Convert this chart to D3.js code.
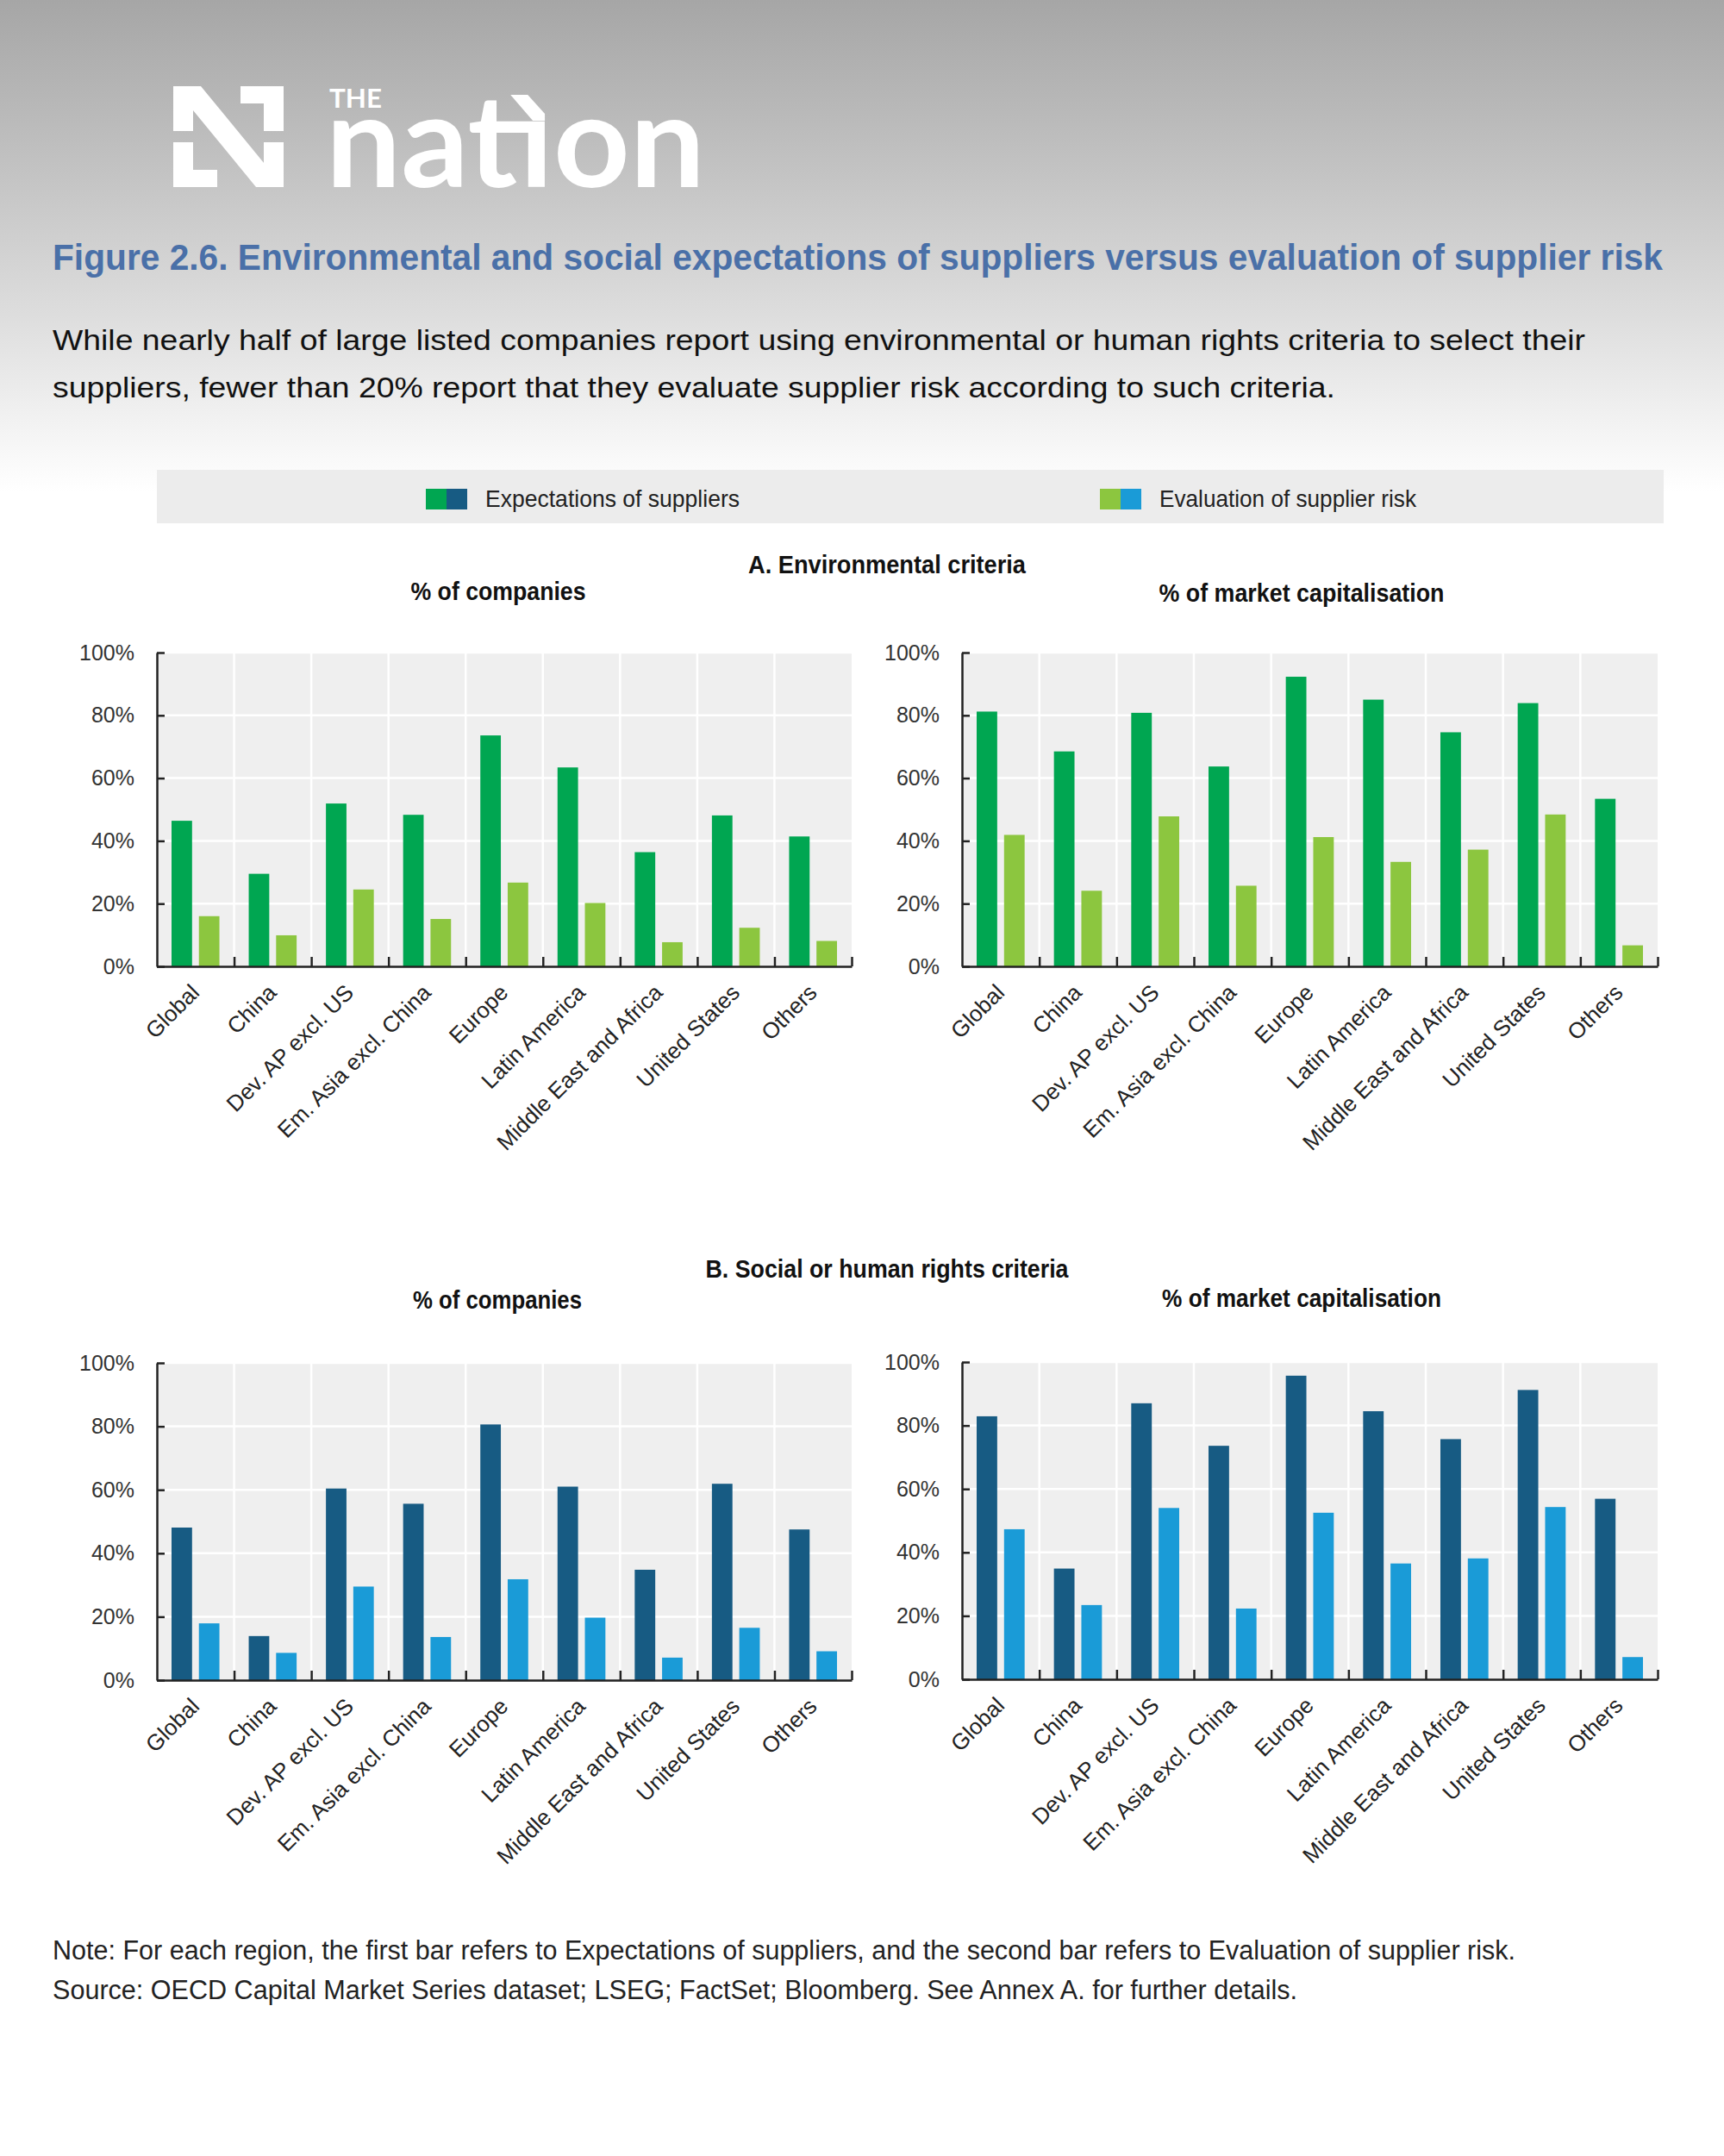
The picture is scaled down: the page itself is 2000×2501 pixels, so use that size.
<!DOCTYPE html>
<html>
<head>
<meta charset="utf-8">
<script src="https://cdn.jsdelivr.net/npm/d3@7"></script>
<style>
  body { margin: 0; background: #fff; }
  svg { display: block; }
</style>
</head>
<body>
<script>
// width and height of the page svg
var w = 2000;
var h = 2501;

// categories and series
var regions = ["Global", "China", "Dev. AP excl. US", "Em. Asia excl. China", "Europe",
               "Latin America", "Middle East and Africa", "United States", "Others"];
var seriesNames = ["Expectations of suppliers", "Evaluation of supplier risk"];
var yTicks = [0, 20, 40, 60, 80, 100];

// A. Environmental criteria (% values)
var envCompaniesExpect = [46.4, 29.5, 51.9, 48.3, 73.6, 63.4, 36.4, 48.1, 41.4];
var envCompaniesEval   = [16.0, 9.9, 24.5, 15.1, 26.7, 20.2, 7.7, 12.3, 8.1];
var envMarketExpect    = [81.2, 68.5, 80.8, 63.7, 92.3, 85.0, 74.6, 83.9, 53.4];
var envMarketEval      = [41.9, 24.1, 47.8, 25.7, 41.2, 33.3, 37.2, 48.4, 6.7];

// B. Social or human rights criteria (% values)
var socCompaniesExpect = [48.1, 13.9, 60.4, 55.6, 80.6, 61.0, 34.8, 61.9, 47.5];
var socCompaniesEval   = [17.9, 8.6, 29.5, 13.6, 31.8, 19.7, 7.1, 16.5, 9.1];
var socMarketExpect    = [82.9, 34.9, 87.0, 73.6, 95.7, 84.5, 75.7, 91.2, 56.9];
var socMarketEval      = [47.3, 23.4, 54.0, 22.3, 52.5, 36.5, 38.1, 54.3, 7.0];

// colours: [expectations, evaluation]
var greens = ["#00a651", "#8cc63f"];
var blues = ["#175b83", "#1a9bd7"];

var narrow = "'Liberation Sans Narrow', 'Arial Narrow', 'Liberation Sans', Arial, sans-serif";
var regular = "'Liberation Sans', Arial, sans-serif";

// adds a single line of text, optionally squeezed to a fixed length
function addText(svg, x, y, txt, size, weight, anchor, color, len, family) {
  var t = svg.append("text")
     .attr("x", x)
     .attr("y", y)
     .attr("text-anchor", anchor)
     .style("font-family", family || narrow)
     .style("font-size", size + "px")
     .style("font-weight", weight)
     .attr("fill", color)
     .text(txt);
  if (len) {
    t.attr("textLength", len).attr("lengthAdjust", "spacingAndGlyphs");
  }
  return t;
}

// draws one grouped bar chart panel
function barChart(svg, left, top, width, height, expectVals, evalVals, colors) {
  var g = svg.append("g")
             .attr("transform", "translate(" + left + "," + top + ")");

  var x0 = d3.scaleBand()
             .domain(regions)
             .range([0, width]);

  var x1 = d3.scaleBand()
             .domain(seriesNames)
             .range([17, x0.bandwidth() - 17])
             .paddingInner(0.25);

  var y = d3.scaleLinear()
            .domain([0, 100])
            .range([height, 0]);

  // boundary scale for the category separators
  var xb = d3.scaleLinear()
             .domain([0, regions.length])
             .range([0, width]);

  // plot background
  g.append("rect")
   .attr("width", width)
   .attr("height", height)
   .attr("fill", "#efefef");

  // white horizontal grid
  g.selectAll(".hgrid")
   .data(yTicks.slice(1))
   .enter()
   .append("line")
   .attr("x1", 0)
   .attr("x2", width)
   .attr("y1", d => y(d))
   .attr("y2", d => y(d))
   .attr("stroke", "#fff")
   .attr("stroke-width", 2.5);

  // white vertical separators
  g.selectAll(".vgrid")
   .data(d3.range(1, regions.length))
   .enter()
   .append("line")
   .attr("x1", d => xb(d))
   .attr("x2", d => xb(d))
   .attr("y1", 0)
   .attr("y2", height)
   .attr("stroke", "#fff")
   .attr("stroke-width", 2.5);

  // bars
  var rows = regions.map(function(r, i) {
    return {region: r, values: [expectVals[i], evalVals[i]]};
  });

  g.selectAll(".group")
   .data(rows)
   .enter()
   .append("g")
   .attr("transform", d => "translate(" + x0(d.region) + ",0)")
   .selectAll("rect")
   .data(d => d.values.map((v, j) => ({key: seriesNames[j], value: v, idx: j})))
   .enter()
   .append("rect")
   .attr("x", d => x1(d.key))
   .attr("y", d => y(d.value))
   .attr("width", x1.bandwidth())
   .attr("height", d => height - y(d.value))
   .attr("fill", d => colors[d.idx]);

  // y axis, ticks pointing inside
  var yAxis = g.append("g")
               .call(d3.axisLeft(y)
                       .tickValues(yTicks)
                       .tickSizeInner(-9)
                       .tickSizeOuter(0)
                       .tickPadding(26)
                       .tickFormat(d => d + "%"));

  // x axis with separator ticks pointing up
  var xAxis = g.append("g")
               .attr("transform", "translate(0," + height + ")")
               .call(d3.axisBottom(xb)
                       .tickValues(d3.range(1, regions.length + 1))
                       .tickSizeInner(-11)
                       .tickSizeOuter(0)
                       .tickFormat(""));

  [yAxis, xAxis].forEach(function(ax) {
    ax.select(".domain").attr("stroke", "#222").attr("stroke-width", 2.5);
    ax.selectAll(".tick line").attr("stroke", "#222").attr("stroke-width", 2.5);
  });

  yAxis.selectAll(".tick text")
       .style("font-family", regular)
       .style("font-size", "25px")
       .attr("fill", "#333");

  // rotated category labels
  g.selectAll(".cat")
   .data(regions)
   .enter()
   .append("text")
   .attr("transform", d => "translate(" + (x0(d) + x0.bandwidth() / 2 + 6) + "," + (height + 32) + ") rotate(-45)")
   .attr("text-anchor", "end")
   .style("font-family", regular)
   .style("font-size", "26px")
   .attr("fill", "#222")
   .text(d => d);
}

// the nation logo in the top header
function logo(svg) {
  var lg = svg.append("g").attr("fill", "#fff");
  var shapes = [
    [[201,100],[233,100],[329,217],[297,217]],
    [[201,100],[224,100],[224,152],[201,152]],
    [[201,165],[224,165],[224,197],[252,197],[252,217],[201,217]],
    [[279,100],[329,100],[329,152],[306,152],[306,120],[279,120]],
    [[306,165],[329,165],[329,217],[306,217]]
  ];
  lg.selectAll("polygon")
    .data(shapes)
    .enter()
    .append("polygon")
    .attr("points", d => d.map(p => p.join(",")).join(" "));

  addText(svg, 382, 125, "THE", 31, 700, "start", "#fff", 61, "Lato, 'Open Sans', sans-serif");
  var word = addText(svg, 378, 217, "nat\u0131on", 150, 700, "start", "#fff", 440, "Lato, 'Open Sans', sans-serif");

  // slanted cap on the dotless i
  var ext = word.node().getExtentOfChar(3);
  var x0 = ext.x + ext.width * 0.2;
  var x1 = ext.x + ext.width * 0.8;
  lg.append("polygon")
    .attr("points", [[x0 - 10, 110], [x0 + 10, 110], [x1, 132], [x1, 140], [x1 - 14, 140]].map(p => p.join(",")).join(" "));
}

window.onload = function() {

  var svg = d3.select("body")
              .append("svg")
              .attr("width", w)
              .attr("height", h);

  // grey header gradient
  var grad = svg.append("defs")
                .append("linearGradient")
                .attr("id", "head")
                .attr("x1", 0).attr("x2", 0).attr("y1", 0).attr("y2", 1);
  [[0, "#a6a6a6"], [0.35, "#c3c3c3"], [0.65, "#dedede"], [0.87, "#f3f3f3"], [1, "#ffffff"]]
    .forEach(s => grad.append("stop").attr("offset", s[0]).attr("stop-color", s[1]));

  svg.append("rect")
     .attr("width", w)
     .attr("height", 570)
     .attr("fill", "url(#head)");

  logo(svg);

  // title and subtitle
  addText(svg, 61, 313, "Figure 2.6. Environmental and social expectations of suppliers versus evaluation of supplier risk",
          42, 700, "start", "#4a70a8", 1868, regular);
  addText(svg, 61, 406, "While nearly half of large listed companies report using environmental or human rights criteria to select their",
          33, 400, "start", "#111", 1778, regular);
  addText(svg, 61, 461, "suppliers, fewer than 20% report that they evaluate supplier risk according to such criteria.",
          33, 400, "start", "#111", 1488, regular);

  // legend
  svg.append("rect")
     .attr("x", 182).attr("y", 545)
     .attr("width", 1748).attr("height", 62)
     .attr("fill", "#ececec");

  var legendX = [494, 1276];
  seriesNames.forEach(function(name, i) {
    svg.append("rect").attr("x", legendX[i]).attr("y", 567).attr("width", 24).attr("height", 24).attr("fill", greens[i]);
    svg.append("rect").attr("x", legendX[i] + 24).attr("y", 567).attr("width", 24).attr("height", 24).attr("fill", blues[i]);
    addText(svg, legendX[i] + 69, 588, name, 28, 400, "start", "#222", i == 0 ? 295 : 298);
  });

  // panel A
  addText(svg, 1029, 665, "A. Environmental criteria", 29, 700, "middle", "#111", 322);
  addText(svg, 578, 696, "% of companies", 29, 700, "middle", "#111", 203);
  addText(svg, 1510, 698, "% of market capitalisation", 29, 700, "middle", "#111", 331);
  barChart(svg, 182, 757, 806, 364, envCompaniesExpect, envCompaniesEval, greens);
  barChart(svg, 1116, 757, 807, 364, envMarketExpect, envMarketEval, greens);

  // panel B
  addText(svg, 1029, 1482, "B. Social or human rights criteria", 29, 700, "middle", "#111", 421);
  addText(svg, 577, 1518, "% of companies", 29, 700, "middle", "#111", 196);
  addText(svg, 1510, 1516, "% of market capitalisation", 29, 700, "middle", "#111", 324);
  barChart(svg, 182, 1581, 806, 368, socCompaniesExpect, socCompaniesEval, blues);
  barChart(svg, 1116, 1580, 807, 368, socMarketExpect, socMarketEval, blues);

  // notes
  addText(svg, 61, 2273, "Note: For each region, the first bar refers to Expectations of suppliers, and the second bar refers to Evaluation of supplier risk.",
          31, 400, "start", "#222", 1697, regular);
  addText(svg, 61, 2319, "Source: OECD Capital Market Series dataset; LSEG; FactSet; Bloomberg. See Annex A. for further details.",
          31, 400, "start", "#222", 1444, regular);
};
</script>
</body>
</html>
